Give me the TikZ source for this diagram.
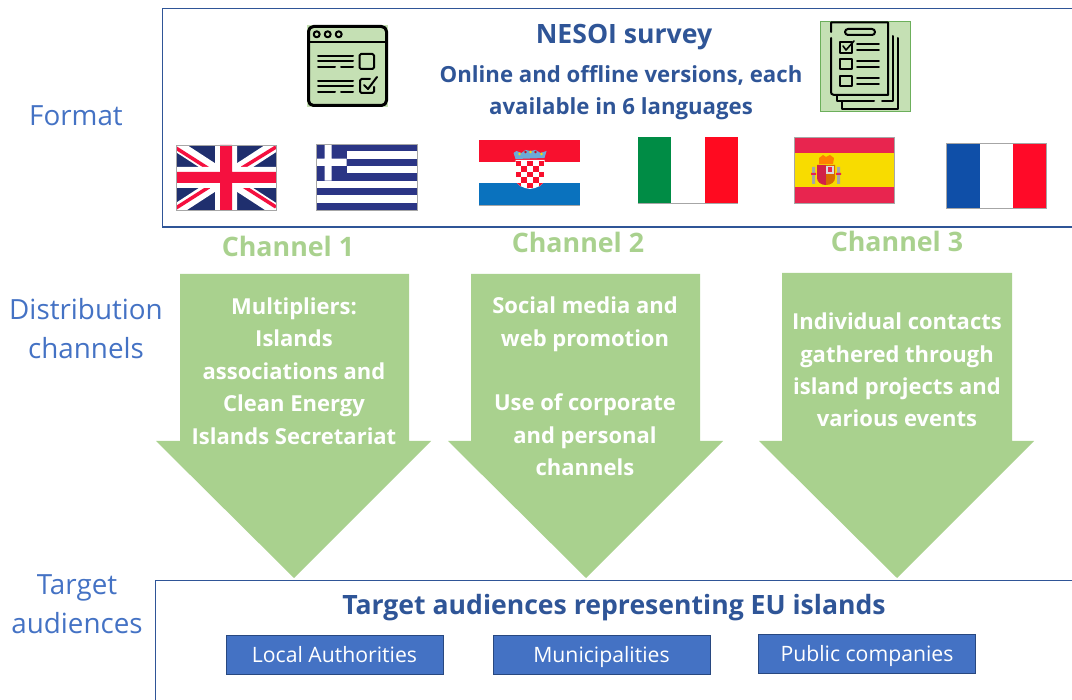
\documentclass[tikz,border=0pt]{standalone}
\usepackage{fontspec}
\setmainfont{Open Sans}
\definecolor{navy}{HTML}{2F5597}
\definecolor{lblue}{HTML}{4472C4}
\definecolor{agreen}{HTML}{A9D18E}
\definecolor{igreen}{HTML}{C5E0B4}
\definecolor{ukblue}{HTML}{1F2F6E}
\definecolor{ukred}{HTML}{F5103F}
\definecolor{grblue}{HTML}{2B3585}
\definecolor{crred}{HTML}{F8102E}
\definecolor{crblue}{HTML}{0A72BE}
\definecolor{itgreen}{HTML}{008C45}
\definecolor{itred}{HTML}{FF0A20}
\definecolor{esred}{HTML}{E8254F}
\definecolor{esyel}{HTML}{F8DC00}
\definecolor{frblue}{HTML}{0F4FA8}
\definecolor{frred}{HTML}{FF0A28}
\tikzset{
  x=1pt,y=-1pt,
  sidelabel/.style={text=lblue,font=\fontsize{27.8}{39}\selectfont,align=center,inner sep=0},
  title/.style={text=navy,font=\bfseries\fontsize{26.6}{32}\selectfont,align=center,inner sep=0},
  subtitle/.style={text=navy,font=\bfseries\fontsize{22.2}{32}\selectfont,align=center,inner sep=0},
  channel/.style={text=agreen,font=\bfseries\fontsize{26.8}{30}\selectfont,inner sep=0},
  arrowtext/.style={text=white,font=\bfseries\fontsize{22}{32.4}\selectfont,align=center,inner sep=0},
  downarrow/.style={fill=agreen,draw=none},
  frameline/.style={draw=navy,line width=1.1pt},
  audience/.style={draw=navy!85!black,line width=.7pt,fill=lblue,text=white,font=\fontsize{21.2}{24}\selectfont,minimum width=217pt,minimum height=39pt,inner sep=0,text height=20pt,text depth=5pt},
  flagedge/.style={draw=black!35,line width=.6pt},
  icon/.style={draw=black,line width=2pt,line cap=round,line join=round},
}
\begin{document}
\begin{tikzpicture}
\useasboundingbox (0,0) rectangle (1072,700);
% frames
\draw[frameline] (1072,8.5) -- (162.5,8.5) -- (162.5,227) -- (1072,227);
\draw[frameline] (1072,580.5) -- (155.5,580.5) -- (155.5,700);
% side labels
\node[sidelabel] (format) at (76,116) {Format};
\node[sidelabel] (distribution) at (86,329) {Distribution\\channels};
\node[sidelabel] (target) at (77,604) {Target\\audiences};
% titles
\node[title] (survey) at (624,37.5) {NESOI survey};
\node[subtitle] (versions) at (621,92.5) {Online and offline versions, each\\available in 6 languages};
% icon 1
\begin{scope}[shift={(307,25)}]
\fill[igreen] (0,0) rectangle (81,82);
\draw[icon,line width=3pt,rounded corners=5pt] (1.5,1.5) rectangle (79.5,80.5);
\draw[icon] (1.5,17) -- (79.5,17);
\foreach \a in {9.7,20.7,31.7} \draw[icon] (\a,9.3) circle (3);
\draw[icon] (11,31) -- (46,31) (11,36.5) -- (46,36.5);
\draw[icon] (11,42) -- (28,42) (34,42) -- (46,42);
\draw[icon] (11,56) -- (46,56) (11,61.5) -- (46,61.5);
\draw[icon] (11,67) -- (28,67) (34,67) -- (46,67);
\draw[icon,rounded corners=1.5pt] (52.5,29) rectangle (67,44);
\draw[icon,rounded corners=1.5pt] (67,62) -- (67,68) -- (53,68) -- (53,54) -- (63,54);
\draw[icon] (57,60) -- (61,64) -- (70,52);
\end{scope}
% icon 2
\begin{scope}[shift={(820,21)}]
\fill[igreen] (0,0) rectangle (90,90);
\draw[agreen!80!green!80!black,line width=.8pt] (0,0) rectangle (90,90);
\draw[icon] (11,11) -- (11,1.5) -- (68,1.5) -- (68,74) -- (14,74) .. controls (11,74) and (11,72) .. (11,70) -- (11,17);
\draw[icon] (73,15) -- (73,80) -- (62,80) (54,80) -- (17,80) -- (17,75);
\draw[icon] (78,17) -- (78,88) -- (22,88) -- (22,81);
\draw[icon,rounded corners=3pt] (25,8) rectangle (55,14);
\draw[icon,line width=1.8pt] (20,21) rectangle (32,32);
\draw[icon,line width=1.8pt] (37,23) -- (59,23) (37,29) -- (59,29);
\draw[icon,line width=1.6pt] (23,25) -- (26,29) -- (34,20);
\draw[icon,line width=1.8pt] (20,38) rectangle (32,48);
\draw[icon,line width=1.8pt] (37,40) -- (59,40) (37,46) -- (59,46);
\draw[icon,line width=1.8pt] (20,55) rectangle (32,65);
\draw[icon,line width=1.8pt] (37,57) -- (59,57) (37,63) -- (59,63);
\end{scope}
% UK flag
\begin{scope}[shift={(176,145)}]
\fill[ukblue] (0,0) rectangle (100,65);
\begin{scope}
\clip (0,0) rectangle (100,65);
\draw[white,line width=12pt] (0,0) -- (100,65) (100,0) -- (0,65);
\draw[ukred,line width=3.5pt] (0,3) -- (33,24) (100,2) -- (66,23) (0,63) -- (33,42) (100,62) -- (67,41);
\end{scope}
\fill[white] (39,0) rectangle (61,65) (0,22) rectangle (100,43);
\fill[ukred] (44,0) rectangle (56,65) (0,27) rectangle (100,38);
\draw[flagedge] (0,0) rectangle (100,65);
\end{scope}
% Greece
\begin{scope}[shift={(316.5,144)}]
\fill[white] (0,0) rectangle (100.5,66);
\foreach \i in {0,2,4,6,8} \fill[grblue] (0,{\i*7.33}) rectangle (100.5,{(\i+1)*7.33});
\fill[grblue] (0,0) rectangle (30,36.7);
\fill[white] (8,0) rectangle (15,36.7) (0,14.7) rectangle (30,22);
\draw[flagedge] (0,0) rectangle (100.5,66);
\end{scope}
% Croatia
\begin{scope}[shift={(478.5,140)}]
\fill[crred] (0,0) rectangle (101,21.7);
\fill[white] (0,21.7) rectangle (101,43.5);
\fill[crblue] (0,43.5) rectangle (101,65);
\fill[white] (37,20) -- (66,20) -- (66,38) .. controls (66,46) and (58,48) .. (51.5,49) .. controls (45,48) and (37,46) .. (37,38) -- cycle;
\begin{scope}
\clip (37,20) -- (66,20) -- (66,38) .. controls (66,46) and (58,48) .. (51.5,49) .. controls (45,48) and (37,46) .. (37,38) -- cycle;
\foreach \r in {0,1,2,3,4} \foreach \c in {0,1,2,3,4} {
  \pgfmathparse{int(mod(\r+\c,2))}
  \ifnum\pgfmathresult=0 \fill[crred] ({37+\c*5.8},{21+\r*5.5}) rectangle ++(5.8,5.5);\fi}
\end{scope}
\fill[crblue!60!white] (35,13) -- (38,11) -- (43,13) -- (47,10) -- (52,11) -- (57,10) -- (62,13) -- (68,11) -- (66,18) -- (37,19) -- cycle;
\fill[crred!80!black] (47,12) circle (1.3) (57,12) circle (1.3);
\fill[esyel] (52,12) circle (1.3) (41,14) circle (1.3) (63,14) circle (1.3);
\draw[flagedge] (0,65) -- (101,65);
\end{scope}
% Italy
\begin{scope}[shift={(637.5,137)}]
\fill[itgreen] (0,0) rectangle (33.5,66);
\fill[white] (33.5,0) rectangle (67,66);
\fill[itred] (67,0) rectangle (100.5,66);
\draw[flagedge] (0,66) -- (100.5,66);
\end{scope}
% Spain
\begin{scope}[shift={(794,137)}]
\fill[esred] (0,0) rectangle (100,66);
\fill[esyel] (0,16) rectangle (100,50);
\fill[esred!90!black] (23,28) -- (32,28) -- (32,48) .. controls (27,48) and (23,45) .. (23,41) -- cycle;
\fill[orange!85!black] (32,28) -- (41,28) -- (41,41) .. controls (41,45) and (37,48) .. (32,48) -- cycle;
\fill[white!70!gray] (32,29) rectangle (40,37);
\fill[esred] (34,30) rectangle (38,35);
\fill[orange] (25,21) -- (29,18) -- (32,20) -- (36,18) -- (40,21) -- (39,27) -- (25,27) -- cycle;
\fill[gray!70] (18,30) rectangle (21,47) (43,30) rectangle (46,47);
\fill[esred] (17,36) rectangle (22,38) (42,36) rectangle (47,38);
\draw[flagedge] (0,0) rectangle (100,66);
\end{scope}
% France
\begin{scope}[shift={(946.5,143)}]
\fill[frblue] (0,0) rectangle (33.5,65);
\fill[white] (33.5,0) rectangle (66.5,65);
\fill[frred] (66.5,0) rectangle (100,65);
\draw[flagedge] (0,0) rectangle (100,65);
\end{scope}
% channel labels
\node[channel] (ch1) at (288,246) {Channel 1};
\node[channel] (ch2) at (578,242) {Channel 2};
\node[channel] (ch3) at (897,241) {Channel 3};
% arrows
\fill[downarrow] (180,274) -- (409,274) -- (409,441) -- (431,441) -- (294,578) -- (156,441) -- (180,441) -- cycle;
\fill[downarrow] (471,274) -- (700,274) -- (700,441) -- (723,441) -- (586,578) -- (448,441) -- (471,441) -- cycle;
\fill[downarrow] (782,273) -- (1012,273) -- (1012,441) -- (1034,441) -- (897,578) -- (759,441) -- (782,441) -- cycle;
\node[arrowtext] (a1) at (294,371) {Multipliers:\\Islands\\associations and\\Clean Energy\\Islands Secretariat};
\node[arrowtext] (a2) at (585,386.5) {Social media and\\web promotion\\[32.4pt]Use of corporate\\and personal\\channels};
\node[arrowtext] (a3) at (897,370) {Individual contacts\\gathered through\\island projects and\\various events};
% bottom
\node[title] (aud) at (614,608) {Target audiences representing EU islands};
\node[audience] (b1) at (334.5,654.5) {Local Authorities};
\node[audience] (b2) at (601.5,654.5) {Municipalities};
\node[audience] (b3) at (867,653.5) {Public companies};
\end{tikzpicture}
\end{document}
